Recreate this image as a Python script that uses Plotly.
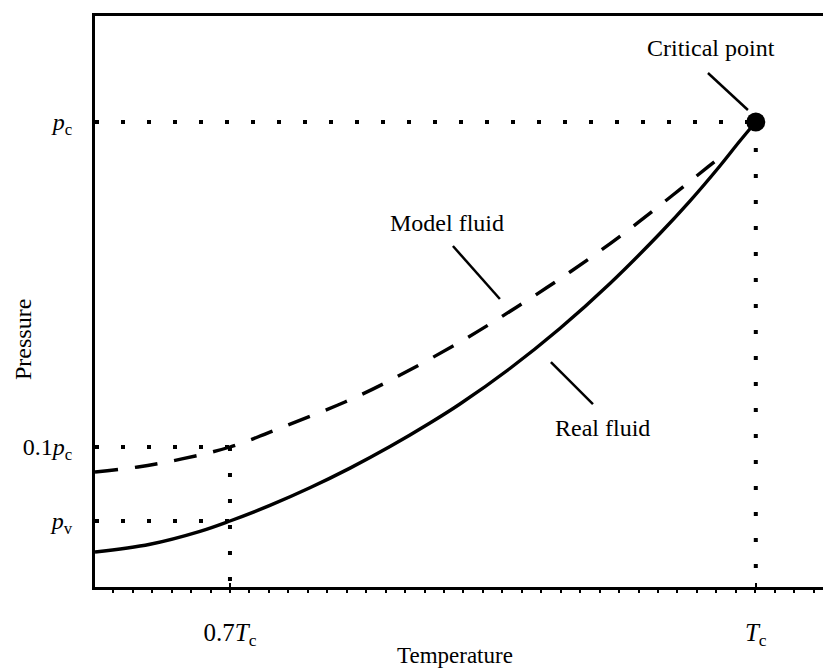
import plotly.graph_objects as go
import math

# ---- data (T in units of Tc, p in units of pc) ----
real_T = [0.6230, 0.6544, 0.6829, 0.7000, 0.7228, 0.7456, 0.7685, 0.7913, 0.8141, 0.8312,
          0.8597, 0.8882, 0.9168, 0.9453, 0.9624, 0.9795, 0.9909, 1.0000]
real_p = [0.0475, 0.0502, 0.0550, 0.0592, 0.0661, 0.0749, 0.0861, 0.1003, 0.1185, 0.1356,
          0.1744, 0.2315, 0.3185, 0.4538, 0.5709, 0.7322, 0.8740, 1.0000]

model_T = [0.6230, 0.6475, 0.6726, 0.7000, 0.7302, 0.7656, 0.7884, 0.8312, 0.8637, 0.8940,
           0.9242, 0.9527, 0.9727, 0.9835]
model_p = [0.0838, 0.0868, 0.0919, 0.1000, 0.1152, 0.1376, 0.1573, 0.2104, 0.2697, 0.3455,
           0.4520, 0.5963, 0.7273, 0.8088]

T_c = 1.0
T_07 = 0.7
p_c = 1.0
p_01 = 0.1
p_v = 0.0592

x_ticks = [T_07, T_c]
x_tick_text = ["0.7<i>T</i><sub>c</sub>", "<i>T</i><sub>c</sub>"]
y_ticks = [p_v, p_01, p_c]
y_tick_text = ["<i>p</i><sub>v</sub>", "0.1<i>p</i><sub>c</sub>", "<i>p</i><sub>c</sub>"]

x_range = [0.6230, 1.0429]
y_log_range = [-1.4308, 0.3262]

labels = ["Critical point", "Model fluid", "Real fluid"]
label_T = [0.9744, 0.8238, 0.9125]
label_p = [1.690, 0.4889, 0.1144]
leader_T = [(0.9727, 0.9955), (0.8272, 0.8540), (0.8831, 0.9071)]
leader_p = [(1.415, 1.089), (0.4153, 0.2854), (0.1826, 0.1356)]

FONT = "Liberation Serif"
FS = 24
x0 = x_range[0]
y_bottom = 10 ** y_log_range[0]

fig = go.Figure()

dot_style = dict(color="black", width=4, dash="4px,22px")
# dotted guide lines
fig.add_trace(go.Scatter(x=[x0, T_c], y=[p_c, p_c], mode="lines", line=dot_style, hoverinfo="skip"))
fig.add_trace(go.Scatter(x=[x0, T_07], y=[p_01, p_01], mode="lines", line=dot_style, hoverinfo="skip"))
fig.add_trace(go.Scatter(x=[x0, T_07], y=[p_v, p_v], mode="lines", line=dot_style, hoverinfo="skip"))
fig.add_trace(go.Scatter(x=[T_07, T_07], y=[p_01, y_bottom], mode="lines", line=dot_style, hoverinfo="skip"))
fig.add_trace(go.Scatter(x=[T_c, T_c], y=[p_c, y_bottom], mode="lines", line=dot_style, hoverinfo="skip"))

# curves
fig.add_trace(go.Scatter(x=model_T, y=model_p, mode="lines",
                         line=dict(color="black", width=3.4, dash="23px,17px", shape="spline"),
                         name="Model fluid"))
fig.add_trace(go.Scatter(x=real_T, y=real_p, mode="lines",
                         line=dict(color="black", width=3.4, shape="spline"),
                         name="Real fluid"))
# critical point
fig.add_trace(go.Scatter(x=[T_c], y=[p_c], mode="markers",
                         marker=dict(color="black", size=19), name="Critical point"))

# leader lines
for tx, py in zip(leader_T, leader_p):
    fig.add_trace(go.Scatter(x=list(tx), y=list(py), mode="lines",
                             line=dict(color="black", width=2.5), hoverinfo="skip"))

for txt, tx, py in zip(labels, label_T, label_p):
    fig.add_annotation(x=tx, y=math.log10(py), text=txt, showarrow=False,
                       xref="x", yref="y", xanchor="center", yanchor="middle",
                       font=dict(family=FONT, size=FS, color="black"))

# axis titles
fig.add_annotation(text="Temperature", xref="paper", yref="paper", x=0.489, y=-0.1191,
                   xanchor="center", yanchor="middle",
                   showarrow=False, font=dict(family=FONT, size=23, color="black"))
fig.add_annotation(text="Pressure", xref="paper", yref="paper", x=-0.0978, y=0.4326,
                   xanchor="center", yanchor="middle",
                   textangle=-90, showarrow=False, font=dict(family=FONT, size=24, color="black"))

fig.update_layout(
    width=823, height=660,
    margin=dict(l=87, r=0, t=8, b=81),
    paper_bgcolor="white", plot_bgcolor="white",
    showlegend=False,
    font=dict(family=FONT, color="black", size=FS),
    xaxis=dict(
        range=x_range, showgrid=False, zeroline=False, automargin=False,
        showline=True, linecolor="black", linewidth=3, mirror=True,
        tickvals=x_ticks, ticktext=x_tick_text, ticks="inside", ticklen=4, tickwidth=2,
        tickcolor="black", ticklabelstandoff=21,
        tickfont=dict(family=FONT, size=25),
        minor=dict(dtick=0.0111, tick0=0.7, ticks="outside", ticklen=3, tickwidth=1.5,
                   tickcolor="black", showgrid=False),
    ),
    yaxis=dict(
        type="log", range=y_log_range, showgrid=False, zeroline=False, automargin=False,
        showline=True, linecolor="black", linewidth=3,
        tickvals=y_ticks, ticktext=y_tick_text, ticks="inside", ticklen=4, tickwidth=2,
        tickcolor="black", ticklabelstandoff=15,
        tickfont=dict(family=FONT, size=24),
    ),
)

fig.write_html("out.html")
